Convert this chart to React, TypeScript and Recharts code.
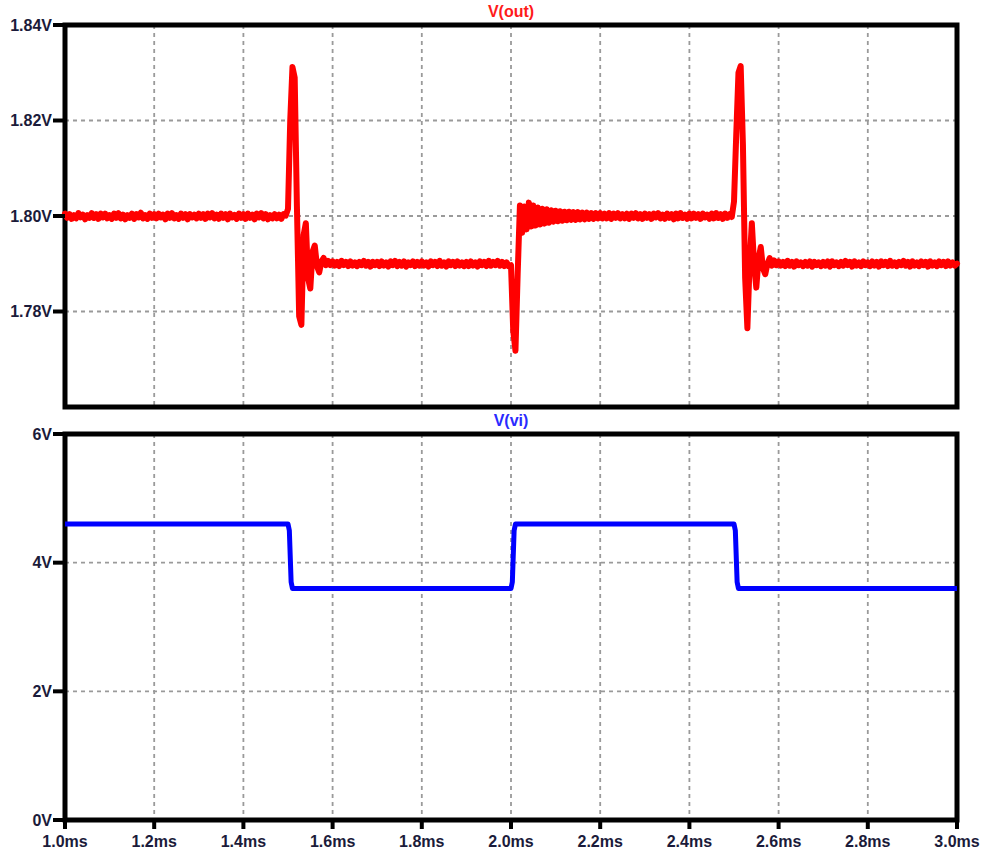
import { LineChart, Line, XAxis, YAxis, CartesianGrid, ReferenceArea } from "recharts"

// V(out) sampled every 5us from 1.0ms to 3.0ms, one row per 0.1ms
const outStart = 1.0
const outStep = 0.005
const vOut = [
  1.8005, 1.7996, 1.8004, 1.7994, 1.8002, 1.7995, 1.8006, 1.7997, 1.8003, 1.7993, 1.8002, 1.7996, 1.8006, 1.7996, 1.8004, 1.7994, 1.8005, 1.7997, 1.8005, 1.7995,
  1.8002, 1.7994, 1.8005, 1.7996, 1.8006, 1.7995, 1.8003, 1.7993, 1.8002, 1.7996, 1.8005, 1.7994, 1.8004, 1.7997, 1.8007, 1.7995, 1.8002, 1.7994, 1.8005, 1.7996,
  1.8004, 1.7995, 1.8005, 1.7997, 1.8003, 1.7993, 1.8005, 1.7996, 1.8006, 1.7995, 1.8002, 1.7994, 1.8005, 1.7996, 1.8004, 1.7993, 1.8004, 1.7997, 1.8003, 1.7995,
  1.8005, 1.7996, 1.8004, 1.7994, 1.8005, 1.7997, 1.8006, 1.7995, 1.8003, 1.7994, 1.8005, 1.7996, 1.8004, 1.7993, 1.8005, 1.7997, 1.8002, 1.7994, 1.8005, 1.7996,
  1.8004, 1.7994, 1.8005, 1.7996, 1.8003, 1.7993, 1.8005, 1.7997, 1.8006, 1.7995, 1.8004, 1.7993, 1.8002, 1.7995, 1.8004, 1.7995, 1.8003, 1.7994, 1.8004, 1.8001,
  1.8015, 1.8200, 1.8312, 1.8290, 1.8020, 1.7790, 1.7772, 1.7960, 1.7985, 1.7870, 1.7848, 1.7925, 1.7938, 1.7895, 1.7882, 1.7905, 1.7912, 1.7897, 1.7906, 1.7897,
  1.7905, 1.7896, 1.7904, 1.7895, 1.7906, 1.7897, 1.7904, 1.7895, 1.7905, 1.7896, 1.7903, 1.7895, 1.7904, 1.7897, 1.7906, 1.7896, 1.7904, 1.7894, 1.7904, 1.7897,
  1.7904, 1.7895, 1.7905, 1.7896, 1.7903, 1.7894, 1.7905, 1.7897, 1.7906, 1.7895, 1.7904, 1.7896, 1.7905, 1.7894, 1.7903, 1.7897, 1.7905, 1.7895, 1.7904, 1.7896,
  1.7905, 1.7896, 1.7903, 1.7894, 1.7905, 1.7897, 1.7904, 1.7895, 1.7906, 1.7896, 1.7903, 1.7894, 1.7905, 1.7897, 1.7904, 1.7895, 1.7905, 1.7896, 1.7903, 1.7895,
  1.7904, 1.7895, 1.7905, 1.7896, 1.7903, 1.7894, 1.7905, 1.7897, 1.7904, 1.7895, 1.7906, 1.7896, 1.7904, 1.7897, 1.7906, 1.7896, 1.7904, 1.7895, 1.7903, 1.7895,
  1.7897, 1.7760, 1.7718, 1.7880, 1.8022, 1.7965, 1.8020, 1.7972, 1.8028, 1.7978, 1.8022, 1.7980, 1.8018, 1.7982, 1.8015, 1.7984, 1.8014, 1.7986, 1.8012, 1.7988,
  1.8011, 1.7989, 1.8010, 1.7990, 1.8009, 1.7991, 1.8009, 1.7992, 1.8008, 1.7992, 1.8008, 1.7993, 1.8007, 1.7993, 1.8007, 1.7994, 1.8006, 1.7994, 1.8006, 1.7995,
  1.8006, 1.7995, 1.8005, 1.7995, 1.8006, 1.7994, 1.8005, 1.7996, 1.8006, 1.7995, 1.8004, 1.7995, 1.8005, 1.7994, 1.8005, 1.7996, 1.8006, 1.7995, 1.8004, 1.7994,
  1.8005, 1.7996, 1.8004, 1.7994, 1.8005, 1.7997, 1.8006, 1.7995, 1.8003, 1.7994, 1.8005, 1.7996, 1.8004, 1.7993, 1.8005, 1.7995, 1.8006, 1.7996, 1.8003, 1.7994,
  1.8005, 1.7995, 1.8005, 1.7996, 1.8004, 1.7994, 1.8005, 1.7997, 1.8003, 1.7994, 1.8005, 1.7995, 1.8006, 1.7996, 1.8004, 1.7994, 1.8005, 1.7996, 1.8004, 1.7998,
  1.8030, 1.8170, 1.8300, 1.8314, 1.8150, 1.7870, 1.7765, 1.7900, 1.7985, 1.7900, 1.7850, 1.7910, 1.7935, 1.7890, 1.7878, 1.7900, 1.7912, 1.7896, 1.7907, 1.7897,
  1.7905, 1.7896, 1.7904, 1.7895, 1.7906, 1.7896, 1.7904, 1.7894, 1.7905, 1.7897, 1.7903, 1.7895, 1.7904, 1.7896, 1.7905, 1.7894, 1.7904, 1.7897, 1.7903, 1.7895,
  1.7904, 1.7896, 1.7905, 1.7894, 1.7905, 1.7897, 1.7903, 1.7895, 1.7904, 1.7896, 1.7906, 1.7897, 1.7904, 1.7894, 1.7905, 1.7896, 1.7903, 1.7895, 1.7905, 1.7897,
  1.7903, 1.7895, 1.7905, 1.7896, 1.7904, 1.7894, 1.7905, 1.7897, 1.7904, 1.7895, 1.7906, 1.7896, 1.7903, 1.7895, 1.7904, 1.7897, 1.7906, 1.7896, 1.7904, 1.7894,
  1.7905, 1.7896, 1.7903, 1.7895, 1.7905, 1.7897, 1.7904, 1.7894, 1.7905, 1.7896, 1.7903, 1.7895, 1.7905, 1.7897, 1.7904, 1.7895, 1.7905, 1.7896, 1.7903, 1.7896,
  1.7900,
]

// V(vi) breakpoints
const viTime = [1.0, 1.5, 1.503, 1.507, 1.51, 2.0, 2.003, 2.007, 2.01, 2.5, 2.503, 2.507, 2.51, 3.0]
const viVolt = [4.6, 4.6, 4.5, 3.7, 3.6, 3.6, 3.7, 4.5, 4.6, 4.6, 4.5, 3.7, 3.6, 3.6]

const timeTicks = [1.0, 1.2, 1.4, 1.6, 1.8, 2.0, 2.2, 2.4, 2.6, 2.8, 3.0]
const outTicks = [1.76, 1.78, 1.8, 1.82, 1.84]
const viTicks = [0, 2, 4, 6]

const outData = vOut.map((v, i) => ({ t: outStart + i * outStep, v }))
const viData = viTime.map((t, i) => ({ t, v: viVolt[i] }))

const FONT = "'Liberation Sans', Arial, sans-serif"
const labelColor = "#1b1b3a"
const tickStyle = { fill: labelColor, fontSize: 16, fontWeight: "bold", fontFamily: FONT }
const tickLineStyle = { stroke: "#000", strokeWidth: 4 }
const gridColor = "#9a9a9a"

export default function App() {
  return (
    <div style={{ position: "absolute", left: 0, top: 0, width: 984, height: 851, background: "#fff" }}>
      <div
        style={{
          position: "absolute", left: 0, top: 3, width: 1022, textAlign: "center",
          color: "#ff1a1a", fontFamily: FONT, fontWeight: "bold", fontSize: 16,
        }}
      >
        V(out)
      </div>
      <div
        style={{
          position: "absolute", left: 0, top: 412, width: 1022, textAlign: "center",
          color: "#2a2aff", fontFamily: FONT, fontWeight: "bold", fontSize: 16,
        }}
      >
        V(vi)
      </div>

      <div style={{ position: "absolute", left: 0, top: 0 }}>
        <LineChart width={984} height={410} data={outData} margin={{ top: 25, right: 27, bottom: 3, left: 0 }}>
          <CartesianGrid strokeDasharray="4 4" stroke={gridColor} strokeWidth={1.8} />
          <XAxis dataKey="t" type="number" domain={[1, 3]} ticks={timeTicks} hide />
          <YAxis
            type="number"
            domain={[1.76, 1.84]}
            ticks={outTicks}
            width={65}
            axisLine={false}
            tickSize={12}
            tickMargin={1}
            tickLine={tickLineStyle}
            tick={tickStyle}
            tickFormatter={(v: number) => v.toFixed(2) + "V"}
          />
          <ReferenceArea x1={1} x2={3} y1={1.76} y2={1.84} fill="#fff" fillOpacity={0} stroke="#000" strokeWidth={5} />
          <Line
            type="linear"
            dataKey="v"
            stroke="#ff0000"
            strokeWidth={6}
            strokeLinejoin="round"
            strokeLinecap="round"
            dot={false}
            isAnimationActive={false}
          />
        </LineChart>
      </div>

      <div style={{ position: "absolute", left: 0, top: 410 }}>
        <LineChart width={984} height={441} data={viData} margin={{ top: 24, right: 27, bottom: 0, left: 0 }}>
          <CartesianGrid strokeDasharray="4 4" stroke={gridColor} strokeWidth={1.8} />
          <XAxis
            dataKey="t"
            type="number"
            domain={[1, 3]}
            ticks={timeTicks}
            height={31}
            axisLine={false}
            tickSize={9}
            tickMargin={7}
            tickLine={tickLineStyle}
            tick={tickStyle}
            tickFormatter={(v: number) => v.toFixed(1) + "ms"}
          />
          <YAxis
            type="number"
            domain={[0, 6]}
            ticks={viTicks}
            width={65}
            axisLine={false}
            tickSize={12}
            tickMargin={1}
            tickLine={tickLineStyle}
            tick={tickStyle}
            tickFormatter={(v: number) => v + "V"}
          />
          <ReferenceArea x1={1} x2={3} y1={0} y2={6} fill="#fff" fillOpacity={0} stroke="#000" strokeWidth={5} />
          <Line
            type="linear"
            dataKey="v"
            stroke="#0000ff"
            strokeWidth={5}
            strokeLinejoin="round"
            dot={false}
            isAnimationActive={false}
          />
        </LineChart>
      </div>
    </div>
  )
}
